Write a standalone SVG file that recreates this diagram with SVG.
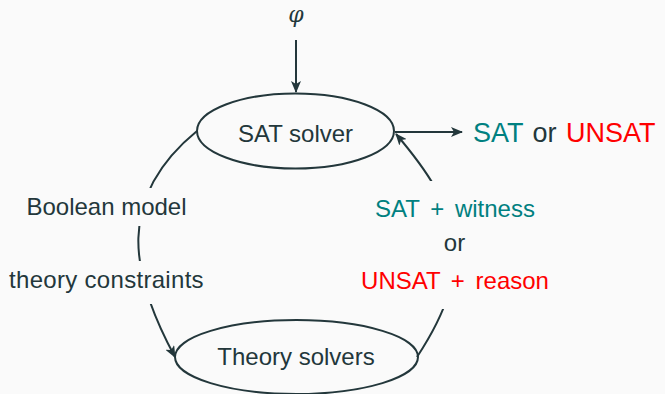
<svg xmlns="http://www.w3.org/2000/svg" width="665" height="394" viewBox="0 0 665 394">
<style>
.t{font-family:"Liberation Sans",Arial,sans-serif;font-size:24px;fill:#23373b;text-anchor:middle}
.teal{fill:#008080}
.red{fill:#ff0000}
.node{fill:none;stroke:#23373b;stroke-width:2}
.edge{fill:none;stroke:#23373b;stroke-width:2}
.bg{fill:#fafafa}
</style>
<defs>
<marker id="ah" markerWidth="12" markerHeight="10" refX="11" refY="5" orient="auto" markerUnits="userSpaceOnUse">
<path d="M0,0 L12,5 L0,10 L3,5 Z" fill="#23373b"/>
</marker>
</defs>
<rect x="0" y="0" width="665" height="394" fill="#fafafa"/>
<g id="connectors">
<path class="edge" d="M296,40 L296,92" marker-end="url(#ah)"/>
<path class="edge" d="M395,132 L462,132" marker-end="url(#ah)"/>
<path class="edge" d="M197,131 C115,198 130,274 175,357" marker-end="url(#ah)"/>
<path class="edge" d="M417,357 C479,263 460,209 396,134" marker-end="url(#ah)"/>
</g>
<g id="phi">
<text x="296" y="22" style="font-family:'DejaVu Serif',serif;font-style:italic;font-size:22px;fill:#23373b;text-anchor:middle">φ</text>
</g>
<g id="sat-solver">
<ellipse class="node" cx="295.5" cy="131" rx="98.5" ry="37.5"/>
<text class="t" x="295.5" y="142">SAT solver</text>
</g>
<g id="theory-solvers">
<ellipse class="node" cx="296.5" cy="357" rx="121.5" ry="37"/>
<text class="t" x="296" y="365">Theory solvers</text>
</g>
<g id="result">
<text class="t" x="473" y="142" style="text-anchor:start;font-size:27px;word-spacing:2px"><tspan class="teal">SAT</tspan> or <tspan class="red">UNSAT</tspan></text>
</g>
<g id="label-left">
<rect class="bg" x="18" y="188" width="178" height="38"/>
<text class="t" x="106.5" y="215">Boolean model</text>
<rect class="bg" x="2" y="261" width="210" height="43"/>
<text class="t" x="106.5" y="288" style="letter-spacing:0.3px">theory constraints</text>
</g>
<g id="label-right">
<rect class="bg" x="352" y="181" width="206" height="128"/>
<text class="t teal" x="455" y="217" style="word-spacing:4px">SAT + witness</text>
<text class="t" x="454.5" y="251">or</text>
<text class="t red" x="455" y="289" style="word-spacing:4px">UNSAT + reason</text>
</g>
</svg>
